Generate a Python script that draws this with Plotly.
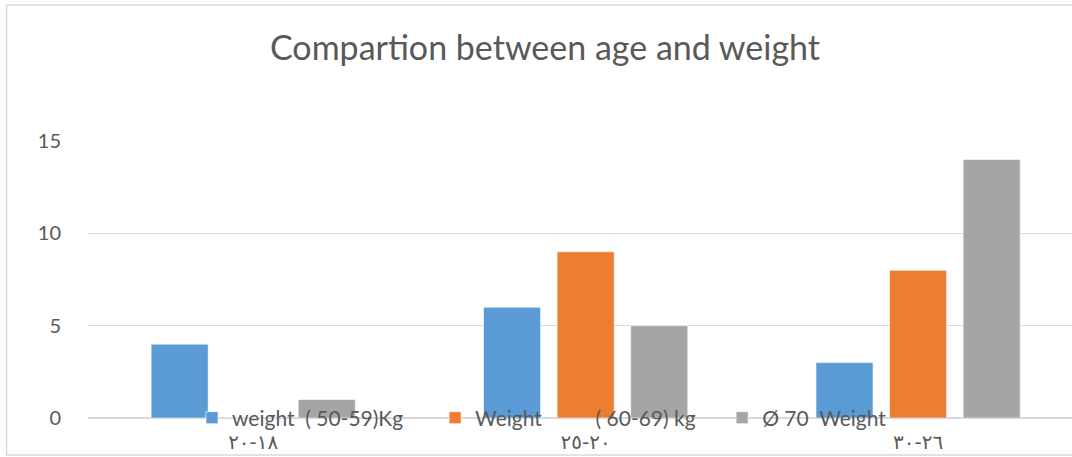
import plotly.graph_objects as go

# Age groups (Arabic-Indic numerals) and counts per weight class
age_groups = ["١٨-٢٠", "٢٠-٢٥", "٢٦-٣٠"]
NB = "\u00a0"
series_names = ["weight" + NB * 2 + "( 50-59)Kg" + NB * 5,
                "Weight" + NB * 10 + "( 60-69) kg" + NB * 4,
                "Ø 70" + NB * 2 + "Weight"]
weight_50_59 = [4, 6, 3]
weight_60_69 = [0, 9, 8]
weight_70_plus = [1, 5, 14]
colors = ["#5B9BD5", "#ED7D31", "#A5A5A5"]

W, H = 1072, 457
ml, mt, mb = 88, 141, 39
pw, ph = W - ml, H - mt - mb

fig = go.Figure()
for name, vals, col in zip(series_names, [weight_50_59, weight_60_69, weight_70_plus], colors):
    fig.add_trace(go.Bar(
        x=age_groups, y=vals, name=name,
        marker=dict(color=col, line=dict(color="rgba(255,255,255,0.6)", width=1)),
    ))

def px_x(p):
    return (p - ml) / pw

def px_y(p):
    return (H - mb - p) / ph

# outer chart frame
fig.add_shape(type="rect", xref="paper", yref="paper",
              x0=px_x(6.5), x1=px_x(1090), y0=px_y(455), y1=px_y(5),
              line=dict(color="#D9D9D9", width=1.5), fillcolor="rgba(0,0,0,0)", layer="below")

fig.update_layout(
    width=W, height=H,
    margin=dict(l=ml, r=0, t=mt, b=mb, pad=0),
    paper_bgcolor="white", plot_bgcolor="white",
    barmode="group", bargap=0.336, bargroupgap=0.224,
    font=dict(family="Lato, 'Open Sans', sans-serif", color="#595959", size=19),
    title=dict(text="Compartion between age and weight", x=545 / W, xref="container",
               xanchor="center", y=1 - 48 / H, yref="container", yanchor="middle",
               font=dict(size=34, color="#595959")),
    xaxis=dict(range=[-0.497, 2.463], showgrid=False, showline=False, zeroline=False,
               ticks="outside", ticklen=6, tickcolor="rgba(0,0,0,0)",
               tickfont=dict(size=20, color="#595959", family="'DejaVu Sans', sans-serif")),
    yaxis=dict(range=[0, 15], tickvals=[0, 5, 10, 15], showgrid=True, gridcolor="#D9D9D9",
               gridwidth=1, zeroline=True, zerolinecolor="#D9D9D9", zerolinewidth=1.5,
               showline=False, ticklabelstandoff=26, tickfont=dict(size=20, color="#595959")),
    legend=dict(orientation="h", x=px_x(192), xanchor="left", y=px_y(418), yanchor="middle",
                bgcolor="rgba(0,0,0,0)", font=dict(size=21, color="#595959"),
                itemwidth=30, traceorder="normal"),
)

fig.write_html("out.html")
